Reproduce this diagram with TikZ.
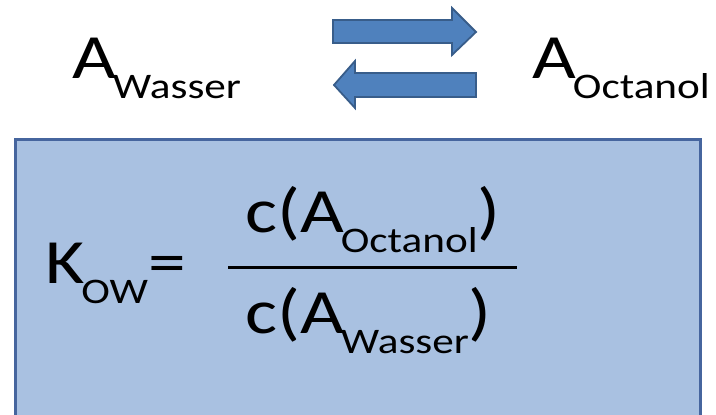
\documentclass[tikz,border=0pt]{standalone}
\usepackage{fontspec}
\setmainfont{Carlito}[FakeStretch=1.2]
\usetikzlibrary{positioning}
\definecolor{cboxfill}{HTML}{A9C1E1}
\definecolor{cboxline}{HTML}{46659E}
\definecolor{carrow}{HTML}{4F81BD}
\definecolor{carrowline}{HTML}{385D8A}
\newcommand{\gross}{\fontsize{63}{70}\selectfont}
\newcommand{\tief}[1]{\kern-3pt\raisebox{-20pt}{\fontsize{36}{40}\selectfont #1}}
\tikzset{
  every picture/.style={x=1pt, y=-1pt},
  formel/.style={font=\gross, inner sep=0pt, anchor=base west},
  formelbox/.style={draw=cboxline, fill=cboxfill, line width=3pt, inner sep=0pt, anchor=north west},
  blockpfeil/.style={draw=carrowline, fill=carrow, line width=1.8pt, line join=miter},
  bruchstrich/.style={line width=3pt},
}
\begin{document}
\begin{tikzpicture}
  \clip (0,0) rectangle (716,415);
  \useasboundingbox (0,0) rectangle (716,415);
  % Gleichgewicht
  \node[formel] (wasser) at (72,78) {A\tief{Wasser}};
  \node[formel] (octanol) at (532,78) {A\tief{Octanol}};
  \draw[blockpfeil] (333,20) -- (452,20) -- (452,8) -- (476,32) -- (452,55) -- (452,43) -- (333,43) -- cycle;
  \draw[blockpfeil] (476,73) -- (355,73) -- (355,61) -- (334,85) -- (355,108) -- (355,97) -- (476,97) -- cycle;
  % Verteilungskoeffizient
  \node[formelbox, minimum width=685pt, minimum height=300pt] (box) at (14,138) {};
  \node[formel] (kow) at (45,283) {K\tief{OW}=};
  \node[formel] (zaehler) at (245,232) {c(A\tief{Octanol})};
  \node[formel] (nenner) at (245,333) {c(A\tief{Wasser})};
  \draw[bruchstrich] (228,267) -- (517,267);
\end{tikzpicture}
\end{document}
